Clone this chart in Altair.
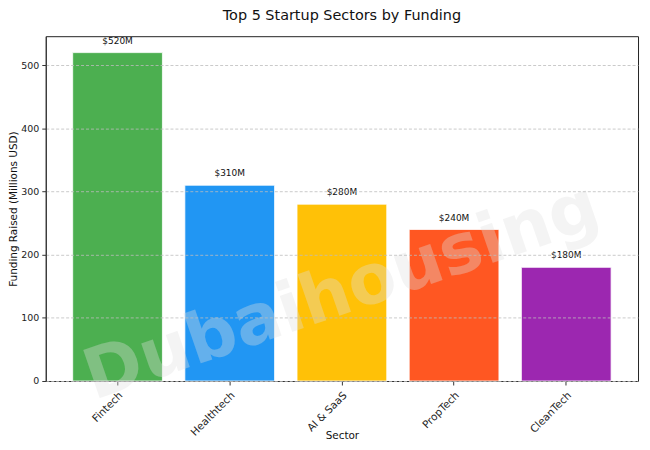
import altair as alt
import pandas as pd

sectors = ["Fintech", "Healthtech", "AI & SaaS", "PropTech", "CleanTech"]
funding = [520, 310, 280, 240, 180]
bar_colors = ["#4CAF50", "#2196F3", "#FFC107", "#FF5722", "#9C27B0"]

df = pd.DataFrame({"Sector": sectors, "Funding": funding})
df["Label"] = ["$" + str(v) + "M" for v in funding]

FONT = "DejaVu Sans"

x_enc = alt.X(
    "Sector:N",
    sort=sectors,
    scale=alt.Scale(paddingInner=0.2, paddingOuter=0.24),
    axis=alt.Axis(
        title="Sector",
        labelAngle=-45,
        labelAlign="right",
        labelBaseline="top",
        labelFontSize=10.5,
        labelColor="#222",
        labelPadding=5,
        titleFontSize=10.5,
        titleFontWeight="normal",
        titleColor="#111",
        titleBaseline="middle",
        titleY=55,
        tickColor="#333",
        tickSize=4,
        domainColor="#333",
        grid=False,
    ),
)
y_scale = alt.Scale(domain=[0, 546], nice=False)

bars = alt.Chart(df).mark_bar(stroke="white", strokeWidth=0.8).encode(
    x=x_enc,
    y=alt.Y(
        "Funding:Q",
        scale=y_scale,
        axis=alt.Axis(
            title="Funding Raised (Millions USD)",
            values=[0, 100, 200, 300, 400, 500],
            labelFontSize=9.5,
            labelColor="#222",
            labelPadding=3,
            titleFontSize=10.5,
            titleFontWeight="normal",
            titleColor="#111",
            titleBaseline="middle",
            titleX=-32,
            tickColor="#333",
            tickSize=4,
            domainColor="#333",
            grid=True,
            gridColor="#bcbcbc",
            gridDash=[3, 2],
            gridWidth=0.8,
            zindex=1,
        ),
    ),
    color=alt.Color("Sector:N", scale=alt.Scale(domain=sectors, range=bar_colors), legend=None),
)

labels = alt.Chart(df).mark_text(
    baseline="bottom", dy=-7, fontSize=9, font=FONT, color="#111"
).encode(
    x=alt.X("Sector:N", sort=sectors),
    y=alt.Y("Funding:Q", scale=y_scale),
    text="Label:N",
)

watermark = alt.Chart(pd.DataFrame({"t": ["Dubaihousing"]})).mark_text(
    fontSize=70,
    fontWeight="bold",
    font=FONT,
    angle=341,
    color="#e0e0e0",
    opacity=0.35,
    align="center",
    baseline="middle",
).encode(
    x=alt.datum("AI & SaaS"),
    y=alt.datum(140),
    text="t:N",
)

chart = (
    alt.layer(bars, labels, watermark)
    .properties(
        width=596,
        height=347,
        title=alt.TitleParams(
            "Top 5 Startup Sectors by Funding",
            fontSize=14.5,
            fontWeight="normal",
            font=FONT,
            color="#111",
            offset=13,
        ),
        autosize=alt.AutoSizeParams(type="none"),
        padding={"left": 38, "top": 27, "right": 4, "bottom": 60},
    )
    .configure(font=FONT)
    .configure_view(stroke="#222", strokeWidth=1)
)

chart.save("out.html", embed_options={"renderer": "svg", "actions": False})
